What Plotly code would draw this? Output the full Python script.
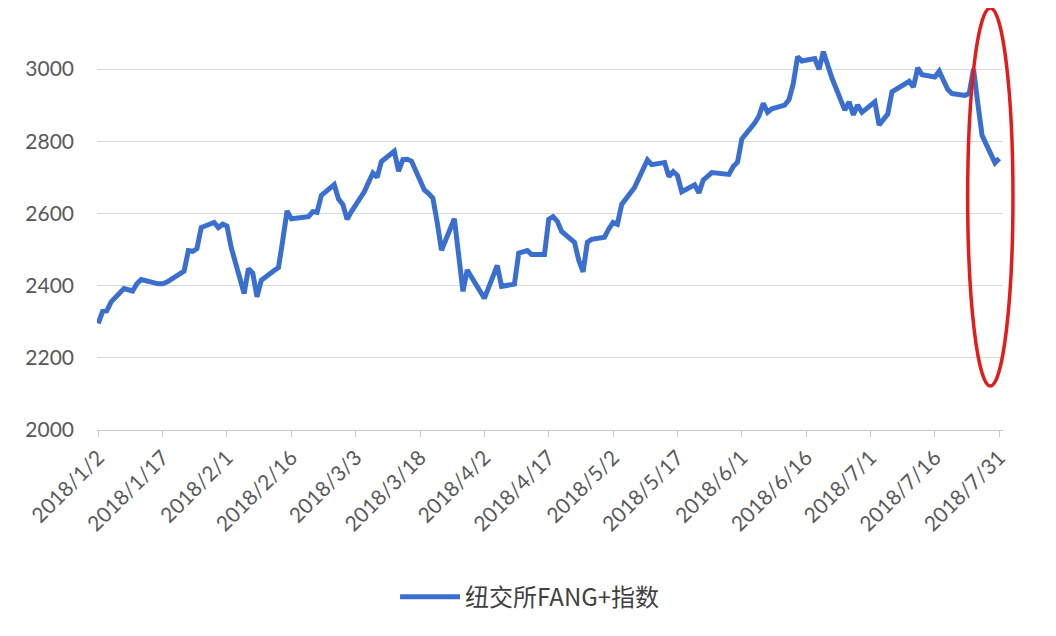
import plotly.graph_objects as go

dates = [
    "2018-01-02", "2018-01-03", "2018-01-04", "2018-01-05", "2018-01-08", "2018-01-09", "2018-01-10",
    "2018-01-11", "2018-01-12", "2018-01-16", "2018-01-17", "2018-01-18", "2018-01-19", "2018-01-22",
    "2018-01-23", "2018-01-24", "2018-01-25", "2018-01-26", "2018-01-29", "2018-01-30", "2018-01-31",
    "2018-02-01", "2018-02-02", "2018-02-05", "2018-02-06", "2018-02-07", "2018-02-08", "2018-02-09",
    "2018-02-12", "2018-02-13", "2018-02-14", "2018-02-15", "2018-02-16", "2018-02-20", "2018-02-21",
    "2018-02-22", "2018-02-23", "2018-02-26", "2018-02-27", "2018-02-28", "2018-03-01", "2018-03-02",
    "2018-03-05", "2018-03-06", "2018-03-07", "2018-03-08", "2018-03-09", "2018-03-12", "2018-03-13",
    "2018-03-14", "2018-03-15", "2018-03-16", "2018-03-19", "2018-03-20", "2018-03-21", "2018-03-22",
    "2018-03-23", "2018-03-26", "2018-03-27", "2018-03-28", "2018-03-29", "2018-04-02", "2018-04-03",
    "2018-04-04", "2018-04-05", "2018-04-06", "2018-04-09", "2018-04-10", "2018-04-11", "2018-04-12",
    "2018-04-13", "2018-04-16", "2018-04-17", "2018-04-18", "2018-04-19", "2018-04-20", "2018-04-23",
    "2018-04-24", "2018-04-25", "2018-04-26", "2018-04-27", "2018-04-30", "2018-05-01", "2018-05-02",
    "2018-05-03", "2018-05-04", "2018-05-07", "2018-05-08", "2018-05-09", "2018-05-10", "2018-05-11",
    "2018-05-14", "2018-05-15", "2018-05-16", "2018-05-17", "2018-05-18", "2018-05-21", "2018-05-22",
    "2018-05-23", "2018-05-24", "2018-05-25", "2018-05-29", "2018-05-30", "2018-05-31", "2018-06-01",
    "2018-06-04", "2018-06-05", "2018-06-06", "2018-06-07", "2018-06-08", "2018-06-11", "2018-06-12",
    "2018-06-13", "2018-06-14", "2018-06-15", "2018-06-18", "2018-06-19", "2018-06-20", "2018-06-21",
    "2018-06-22", "2018-06-25", "2018-06-26", "2018-06-27", "2018-06-28", "2018-06-29", "2018-07-02",
    "2018-07-03", "2018-07-05", "2018-07-06", "2018-07-09", "2018-07-10", "2018-07-11", "2018-07-12",
    "2018-07-13", "2018-07-16", "2018-07-17", "2018-07-18", "2018-07-19", "2018-07-20", "2018-07-23",
    "2018-07-24", "2018-07-25", "2018-07-26", "2018-07-27", "2018-07-30", "2018-07-31",
]

fang_index = [
    2295, 2328, 2330, 2355, 2392, 2387, 2385,
    2405, 2417, 2405, 2405, 2410, 2418, 2440,
    2497, 2495, 2502, 2561, 2575, 2561, 2570,
    2565, 2505, 2378, 2447, 2435, 2369, 2415,
    2442, 2450, 2525, 2607, 2585, 2591, 2605,
    2603, 2650, 2680, 2640, 2625, 2584, 2605,
    2660, 2690, 2712, 2700, 2744, 2772, 2717,
    2749, 2750, 2745, 2665, 2655, 2642, 2575,
    2498, 2585, 2480, 2384, 2443, 2365, 2395,
    2425, 2456, 2398, 2404, 2490, 2493, 2497,
    2486, 2486, 2584, 2591, 2578, 2550, 2520,
    2470, 2438, 2520, 2528, 2534, 2557, 2575,
    2570, 2625, 2672, 2695, 2720, 2748, 2735,
    2741, 2702, 2716, 2705, 2660, 2679, 2657,
    2692, 2702, 2713, 2708, 2730, 2742, 2806,
    2850, 2870, 2905, 2880, 2890, 2900, 2915,
    2960, 3034, 3022, 3029, 2999, 3048, 3005,
    2975, 2886, 2909, 2873, 2900, 2880, 2909,
    2845, 2875, 2937, 2960, 2966, 2950, 3003,
    2984, 2978, 2994, 2970, 2943, 2932, 2927,
    2932, 3000, 2905, 2816, 2740, 2752,
]

tick_dates = [
    "2018-01-02", "2018-01-17", "2018-02-01", "2018-02-16", "2018-03-03", "2018-03-18", "2018-04-02",
    "2018-04-17", "2018-05-02", "2018-05-17", "2018-06-01", "2018-06-16", "2018-07-01", "2018-07-16",
    "2018-07-31",
]
tick_labels = [
    "2018/1/2", "2018/1/17", "2018/2/1", "2018/2/16", "2018/3/3", "2018/3/18", "2018/4/2",
    "2018/4/17", "2018/5/2", "2018/5/17", "2018/6/1", "2018/6/16", "2018/7/1", "2018/7/16",
    "2018/7/31",
]
y_ticks = [2000, 2200, 2400, 2600, 2800, 3000]
series_name = "纽交所FANG+指数"

fig = go.Figure()
fig.add_trace(go.Scatter(
    x=dates, y=fang_index, mode="lines", name=series_name,
    line=dict(color="#3a6fcf", width=5),
))

fig.update_layout(
    width=1048, height=628,
    margin=dict(l=89, r=53, t=0, b=206, autoexpand=False),
    paper_bgcolor="white", plot_bgcolor="white",
    showlegend=True,
    legend=dict(
        orientation="h", x=0.478, xanchor="center", y=-0.396, yanchor="middle",
        font=dict(family="Noto Sans CJK SC", size=24, color="#404040"),
        itemwidth=60,
    ),
    xaxis=dict(
        type="date", automargin=False,
        range=["2018-01-01 17:00", "2018-07-31 21:00"],
        tickvals=tick_dates, ticktext=tick_labels, tickangle=-45,
        tickfont=dict(family="Lato", size=21, color="#595959"),
        showgrid=False, showline=True, linecolor="#c8c8c8", linewidth=1,
        ticks="outside", ticklen=6, tickcolor="#c8c8c8",
        zeroline=False,
    ),
    yaxis=dict(
        range=[2000, 3169], automargin=False,
        tickvals=y_ticks,
        tickfont=dict(family="Lato", size=21, color="#595959"),
        showgrid=True, gridcolor="#d9d9d9", gridwidth=1,
        showline=False, zeroline=False, ticks="",
        ticklabelstandoff=22,
    ),
)

# red ellipse highlighting the late-July drop
fig.add_shape(
    type="circle", xref="paper", yref="paper",
    x0=0.961, x1=1.011, y0=0.104, y1=1.0,
    line=dict(color="#e31b1b", width=3.5),
)

fig.write_html("out.html")
